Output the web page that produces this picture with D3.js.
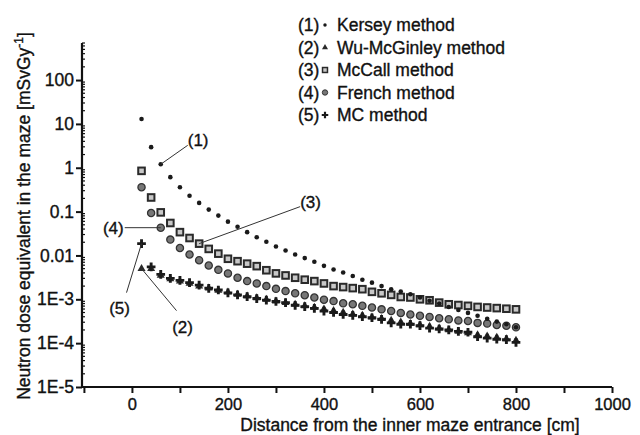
<!DOCTYPE html>
<html>
<head>
<meta charset="utf-8">
<script src="https://cdn.jsdelivr.net/npm/d3@7"></script>
<style>
  body { margin: 0; background: #fff; }
  text { font-family: "Liberation Sans", Arial, Helvetica, sans-serif; fill: #111; stroke: #111; stroke-width: 0.35px; }
</style>
</head>
<body>
<div id="chart"></div>
<script>
// Distances [cm]
const distance = [20, 40, 60, 80, 100, 120, 140, 160, 180, 200, 220, 240, 260, 280, 300, 320, 340, 360, 380, 400,
  420, 440, 460, 480, 500, 520, 540, 560, 580, 600, 620, 640, 660, 680, 700, 720, 740, 760, 780, 800];

// Dose equivalents [mSv/Gy] per method
const kersey = [12.9, 2.95, 1.2, 0.61, 0.36, 0.23, 0.158, 0.111, 0.081, 0.059, 0.045, 0.034, 0.026, 0.0206, 0.016,
  0.013, 0.0105, 0.0087, 0.0072, 0.0058, 0.0048, 0.0041, 0.0034, 0.0028, 0.0024, 0.002, 0.0017, 0.0015, 0.0013,
  0.0011, 0.00093, 0.0008, 0.00067, 0.00057, 0.00049, 0.00042, 0.00036, 0.00031, 0.00027, 0.00023];
const wuMcGinley = [0.005, 0.005, 0.0035, 0.0029, 0.0026, 0.0023, 0.002, 0.0018, 0.0016, 0.00145, 0.0013, 0.00118,
  0.00108, 0.00099, 0.00091, 0.00084, 0.00077, 0.00071, 0.00065, 0.0006, 0.00055, 0.0005, 0.00046, 0.00043, 0.00039,
  0.00036, 0.00033, 0.0003, 0.00028, 0.00026, 0.00024, 0.00022, 0.0002, 0.000185, 0.00017, 0.000155, 0.000145,
  0.000135, 0.000125, 0.000115];
const mcCall = [0.85, 0.21, 0.096, 0.055, 0.034, 0.025, 0.0186, 0.0141, 0.011, 0.0084, 0.0074, 0.0065, 0.0057, 0.0046,
  0.0039, 0.0035, 0.0031, 0.0028, 0.0026, 0.0023, 0.002, 0.0019, 0.0018, 0.0017, 0.00148, 0.00137, 0.00126, 0.00113,
  0.0011, 0.001, 0.00095, 0.00084, 0.00077, 0.00074, 0.00071, 0.00067, 0.00065, 0.00063, 0.00061, 0.00059];
const french = [0.36, 0.093, 0.043, 0.023, 0.0148, 0.0105, 0.0078, 0.0059, 0.0047, 0.0039, 0.0031, 0.0026, 0.0023,
  0.002, 0.00173, 0.00154, 0.00137, 0.00124, 0.0011, 0.00098, 0.00091, 0.00081, 0.00077, 0.00071, 0.00065, 0.00059,
  0.00054, 0.00049, 0.00045, 0.00042, 0.000396, 0.00037, 0.00035, 0.00033, 0.00032, 0.00029, 0.00028, 0.00026,
  0.00025, 0.00023];
const monteCarlo = [0.0186, 0.0055, 0.0037, 0.003, 0.0027, 0.0024, 0.0021, 0.00178, 0.00163, 0.0014, 0.00126,
  0.00115, 0.00104, 0.00096, 0.00089, 0.00084, 0.00073, 0.00068, 0.00062, 0.00054, 0.0005, 0.00045, 0.00043, 0.0004,
  0.00038, 0.00035, 0.00029, 0.00027, 0.00027, 0.00025, 0.00022, 0.00021, 0.0002, 0.000186, 0.000177, 0.00014,
  0.00013, 0.000123, 0.00012, 0.000104];

const seriesNames = ["Kersey method", "Wu-McGinley method", "McCall method", "French method", "MC method"];
const seriesValues = [kersey, wuMcGinley, mcCall, french, monteCarlo];
const seriesSymbols = ["dot", "triangle", "square", "circle", "plus"];

const xTicks = [-100, 0, 100, 200, 300, 400, 500, 600, 700, 800, 900, 1000];
const xTickLabels = [0, 200, 400, 600, 800, 1000];
const yTickValues = [100, 10, 1, 0.1, 0.01, 1e-3, 1e-4, 1e-5];
const yTickLabels = ["100", "10", "1", "0.1", "0.01", "1E-3", "1E-4", "1E-5"];

// Annotation callouts: series index, distance of anchored point, label and elbow offsets
const callouts = [
  { series: 0, d: 60, label: "(1)", lx: 27, ly: -19, tx: 27, ty: -18, anchor: "start" },
  { series: 2, d: 140, label: "(3)", lx: 101, ly: -37, tx: 101, ty: -36, anchor: "start" },
  { series: 3, d: 60, label: "(4)", lx: -36, ly: 0, tx: -37, ty: 6, anchor: "end" },
  { series: 4, d: 20, label: "(5)", lx: -15, ly: 49, tx: -22, ty: 70, anchor: "middle" },
  { series: 1, d: 20, label: "(2)", lx: 35, ly: 42, tx: 41, ty: 64, anchor: "middle" }
];

const svgWidth = 640;
const svgHeight = 435;
const margin = { top: 43, right: 28, bottom: 48, left: 82 };

const svg = d3.select("#chart")
  .append("svg")
  .attr("width", svgWidth)
  .attr("height", svgHeight);

const xScale = d3.scaleLinear()
  .domain([-104, 1000])
  .range([margin.left, svgWidth - margin.right]);

const yScale = d3.scaleLog()
  .domain([1e-5, 700])
  .range([svgHeight - margin.bottom, margin.top]);

// X axis
const xAxis = d3.axisBottom(xScale)
  .tickValues(xTicks)
  .tickSize(6)
  .tickFormat(d => xTickLabels.includes(d) ? d : "");

const gx = svg.append("g")
  .attr("transform", `translate(0, ${svgHeight - margin.bottom})`)
  .call(xAxis);
gx.select(".domain").attr("stroke", "#111").attr("stroke-width", 2.2)
  .attr("d", `M${xScale.range()[0]},0H${xScale.range()[1]}`);
gx.selectAll(".tick line").attr("stroke", "#111").attr("stroke-width", 2);
gx.selectAll(".tick text").attr("font-size", 16.5).attr("y", 6).attr("dy", "1.0em").attr("fill", "#111");

// Y axis: minor ticks inside, major outside
const minorTicks = yScale.ticks().filter(v => !yTickValues.some(t => Math.abs(t - v) / t < 1e-6));
svg.append("g")
  .selectAll("line")
  .data(minorTicks)
  .join("line")
  .attr("x1", margin.left)
  .attr("x2", margin.left + 3)
  .attr("y1", d => yScale(d))
  .attr("y2", d => yScale(d))
  .attr("stroke", "#111")
  .attr("stroke-width", 1.2);

const yAxis = d3.axisLeft(yScale)
  .tickValues(yTickValues)
  .tickSize(6)
  .tickFormat((d, i) => yTickLabels[i]);

const gy = svg.append("g")
  .attr("transform", `translate(${margin.left}, 0)`)
  .call(yAxis);
gy.select(".domain").attr("stroke", "#111").attr("stroke-width", 2.2)
  .attr("d", `M0,${yScale.range()[0]}V${yScale.range()[1]}`);
gy.selectAll(".tick line").attr("stroke", "#111").attr("stroke-width", 2);
gy.selectAll(".tick text").attr("font-size", 17.5).attr("x", -8).attr("fill", "#111");

// Axis titles
svg.append("text")
  .attr("x", 410)
  .attr("y", 430.5)
  .attr("text-anchor", "middle")
  .attr("font-size", 17.5)
  .text("Distance from the inner maze entrance [cm]");

const yTitle = svg.append("text")
  .attr("transform", `translate(30, 216) rotate(-90)`)
  .attr("text-anchor", "middle")
  .attr("font-size", 17.5);
yTitle.append("tspan").text("Neutron dose equivalent in the maze [mSvGy");
yTitle.append("tspan").attr("font-size", 12).attr("dy", -7).text("-1");
yTitle.append("tspan").attr("dy", 7).text("]");

// Marker drawing
function drawMarker(g, symbol, scale) {
  const s = scale || 1;
  if (symbol === "dot") {
    g.append("circle").attr("r", 2.3 * s).attr("fill", "#1a1a1a");
  } else if (symbol === "triangle") {
    g.append("path").attr("d", d3.symbol(d3.symbolTriangle, 28 * s * s)()).attr("fill", "#2a2a2a");
  } else if (symbol === "square") {
    g.append("rect").attr("x", -3.3 * s).attr("y", -3.3 * s).attr("width", 6.6 * s).attr("height", 6.6 * s)
      .attr("fill", "#c8c8c8").attr("stroke", "#2a2a2a").attr("stroke-width", 2 * s);
  } else if (symbol === "circle") {
    g.append("circle").attr("r", 3.6 * s).attr("fill", "#777").attr("stroke", "#333").attr("stroke-width", 1.3 * s);
  } else if (symbol === "plus") {
    g.append("path").attr("d", d3.symbol(d3.symbolCross, 42 * s * s)()).attr("fill", "#1a1a1a");
  }
}

// Draw series (MC last so it sits above the triangles)
const drawOrder = [3, 2, 1, 4, 0];
drawOrder.forEach(si => {
  const g = svg.append("g");
  distance.forEach((d, i) => {
    const m = g.append("g")
      .attr("transform", `translate(${xScale(d)}, ${yScale(seriesValues[si][i])})`);
    drawMarker(m, seriesSymbols[si], 1);
  });
});

// Callouts
callouts.forEach(c => {
  const i = distance.indexOf(c.d);
  const px = xScale(c.d);
  const py = yScale(seriesValues[c.series][i]);
  svg.append("line")
    .attr("x1", px).attr("y1", py)
    .attr("x2", px + c.lx).attr("y2", py + c.ly)
    .attr("stroke", "#333").attr("stroke-width", 1);
  svg.append("text")
    .attr("x", px + c.tx)
    .attr("y", py + c.ty)
    .attr("text-anchor", c.anchor)
    .attr("font-size", 17)
    .text(c.label);
});

// Legend
const legend = svg.append("g").attr("transform", "translate(298, 25)");
seriesNames.forEach((name, i) => {
  const row = legend.append("g").attr("transform", `translate(0, ${i * 22.5})`);
  row.append("text").attr("x", 0).attr("y", 6).attr("font-size", 17.5).text(`(${i + 1})`);
  const m = row.append("g").attr("transform", "translate(27, 0)");
  drawMarker(m, seriesSymbols[i], 0.75);
  row.append("text").attr("x", 39).attr("y", 6).attr("font-size", 17.5).text(name);
});
</script>
</body>
</html>
